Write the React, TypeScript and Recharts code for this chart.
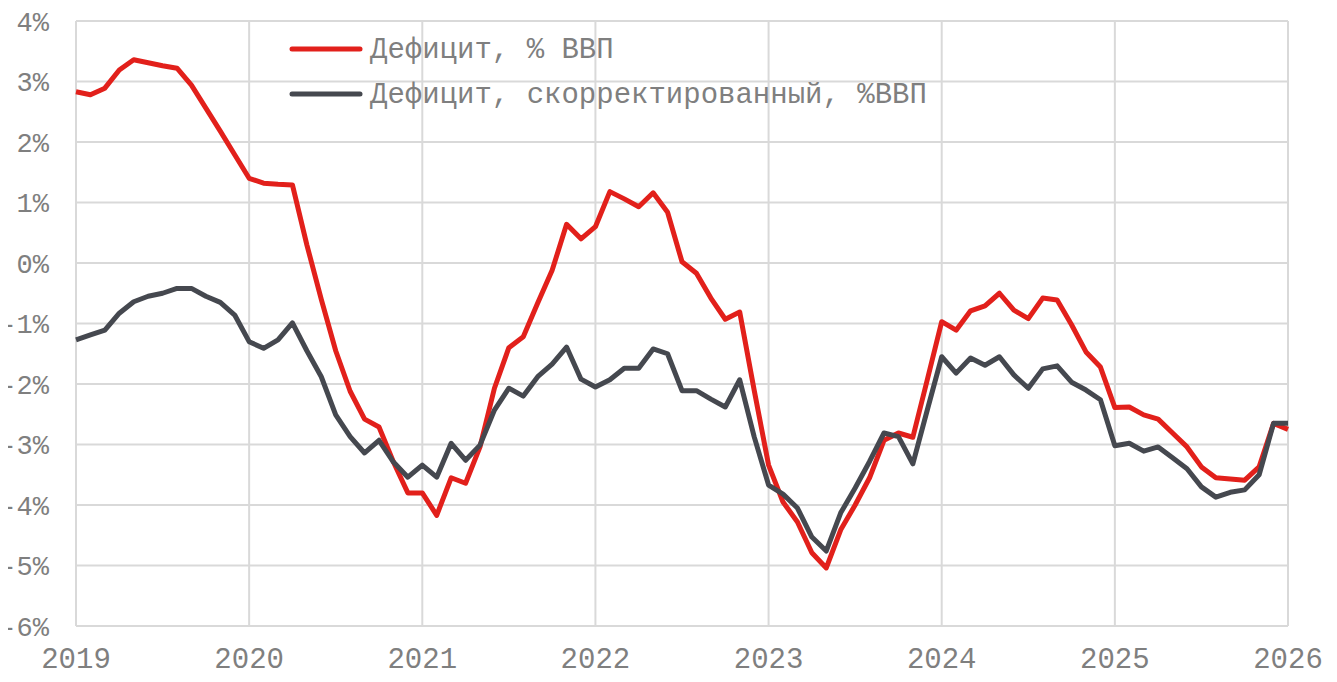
import React from 'react';
import { LineChart, Line, XAxis, YAxis, CartesianGrid } from 'recharts';

// Monthly values, Jan 2019 .. Jan 2026 (85 months)
const deficitPctGdp: number[] = [
  2.83, 2.78, 2.89, 3.19, 3.36, 3.31, 3.26, 3.22, 2.94, 2.56, 2.18, 1.79,
  1.40, 1.32, 1.30, 1.29, 0.30, -0.60, -1.45, -2.12, -2.58, -2.71, -3.29, -3.80,
  -3.80, -4.17, -3.55, -3.64, -3.04, -2.07, -1.40, -1.22, -0.66, -0.12, 0.64, 0.40,
  0.60, 1.18, 1.06, 0.93, 1.16, 0.84, 0.02, -0.17, -0.58, -0.93, -0.81, -2.10,
  -3.34, -3.95, -4.28, -4.79, -5.04, -4.41, -4.00, -3.55, -2.93, -2.81, -2.88, -1.93,
  -0.97, -1.11, -0.79, -0.71, -0.50, -0.78, -0.92, -0.58, -0.61, -1.02, -1.47, -1.72,
  -2.39, -2.38, -2.51, -2.58, -2.81, -3.04, -3.37, -3.55, -3.57, -3.59, -3.37, -2.65,
  -2.75,
];

const deficitAdjusted: number[] = [
  -1.27, -1.19, -1.11, -0.83, -0.64, -0.55, -0.50, -0.42, -0.42, -0.55, -0.65, -0.86,
  -1.30, -1.41, -1.27, -0.99, -1.45, -1.88, -2.51, -2.87, -3.14, -2.93, -3.29, -3.54,
  -3.34, -3.54, -2.98, -3.26, -3.01, -2.43, -2.07, -2.20, -1.88, -1.67, -1.39, -1.92,
  -2.05, -1.93, -1.74, -1.74, -1.42, -1.50, -2.11, -2.11, -2.25, -2.38, -1.93, -2.87,
  -3.67, -3.82, -4.05, -4.53, -4.76, -4.13, -3.72, -3.28, -2.81, -2.87, -3.32, -2.43,
  -1.55, -1.82, -1.57, -1.69, -1.55, -1.85, -2.07, -1.75, -1.70, -1.97, -2.10, -2.26,
  -3.02, -2.98, -3.11, -3.04, -3.22, -3.40, -3.70, -3.87, -3.79, -3.75, -3.50, -2.65,
  -2.65,
];

const yearLabels: string[] = ['2019', '2020', '2021', '2022', '2023', '2024', '2025', '2026'];
const yTicks: number[] = [-6, -5, -4, -3, -2, -1, 0, 1, 2, 3, 4];
const seriesNames: string[] = ['Дефицит, % ВВП', 'Дефицит, скорректированный, %ВВП'];

const RED = '#e2201b';
const DARK = '#45484f';
const TEXT = '#7f7f7f';
const GRID = '#d9d9d9';
const FONT = '"Liberation Mono", "DejaVu Sans Mono", monospace';

const data = deficitPctGdp.map((v, i) => ({ idx: i, deficit: v, adjusted: deficitAdjusted[i] }));
const xTicks = yearLabels.map((_, k) => k * 12);

const LegendOverlay = () => (
  <svg
    width={1000}
    height={120}
    style={{ position: 'absolute', left: 0, top: 0, pointerEvents: 'none' }}
  >
    {[RED, DARK].map((c, k) => (
      <g key={k}>
        <line x1={292} x2={360} y1={49 + k * 45} y2={49 + k * 45} stroke={c} strokeWidth={5} strokeLinecap="round" />
        <text x={370} y={50 + k * 45} dominantBaseline="central" fontSize={29} fill={TEXT} fontFamily={FONT}>
          {seriesNames[k]}
        </text>
      </g>
    ))}
  </svg>
);

export default function App() {
  return (
    <div style={{ position: 'relative', left: -8, top: -8, width: 1337, height: 682 }}>
      <LineChart
        width={1337}
        height={682}
        data={data}
        margin={{ top: 21, right: 49, bottom: 0, left: 0 }}
      >
        <CartesianGrid stroke={GRID} strokeWidth={2} />
        <XAxis
          dataKey="idx"
          type="number"
          domain={[0, 84]}
          ticks={xTicks}
          tickFormatter={(v: number) => yearLabels[Math.round(v / 12)]}
          axisLine={false}
          tickLine={false}
          tickSize={0}
          tickMargin={21}
          height={56}
          interval={0}
          tick={{ fill: TEXT, fontSize: 29, fontFamily: FONT }}
        />
        <YAxis
          type="number"
          domain={[-6, 4]}
          ticks={yTicks}
          tickFormatter={(v: number) => `${v}%`}
          axisLine={false}
          tickLine={false}
          tickSize={0}
          tickMargin={27}
          width={76}
          interval={0}
          tick={{ fill: TEXT, fontSize: 27, fontFamily: FONT }}
        />
        <Line
          type="linear"
          dataKey="deficit"
          name={seriesNames[0]}
          stroke={RED}
          strokeWidth={5}
          dot={false}
          strokeLinejoin="round"
          isAnimationActive={false}
        />
        <Line
          type="linear"
          dataKey="adjusted"
          name={seriesNames[1]}
          stroke={DARK}
          strokeWidth={5}
          dot={false}
          strokeLinejoin="round"
          isAnimationActive={false}
        />
      </LineChart>
      <LegendOverlay />
    </div>
  );
}
